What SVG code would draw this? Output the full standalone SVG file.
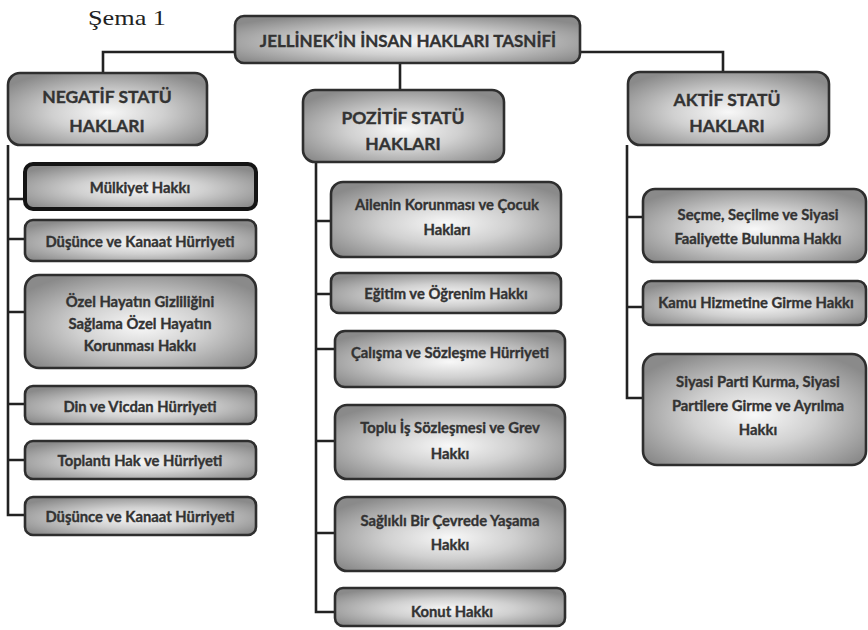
<svg xmlns="http://www.w3.org/2000/svg" width="868" height="630" viewBox="0 0 868 630">
  <defs>
    <radialGradient id="g" cx="50%" cy="55%" r="62%">
      <stop offset="0" stop-color="#f8f8f8"/>
      <stop offset="0.45" stop-color="#d0d0d0"/>
      <stop offset="1" stop-color="#8a8a8a"/>
    </radialGradient>
    <style>
      .box{fill:url(#g);stroke:#2e2e2e;stroke-width:2.6}
      .thick{stroke:#141414;stroke-width:4}
      .t{font-family:Lato,"Liberation Sans",sans-serif;font-weight:bold;fill:#333;stroke:#333;stroke-width:0.35;text-anchor:middle;font-size:14.8px}
      .h{font-size:17.5px}
      .tt{font-size:17px}
      .c{fill:none;stroke:#222;stroke-width:2.6}
    </style>
  </defs>
  <rect width="868" height="630" fill="#fff"/>
  <text x="88" y="25" font-family="'Liberation Serif',serif" font-size="22" fill="#222" textLength="78" lengthAdjust="spacingAndGlyphs">Şema 1</text>

  <g id="connectors">
    <path class="c" d="M235 52H103V73"/>
    <path class="c" d="M400 63V90"/>
    <path class="c" d="M580 52H723V72"/>
    <path class="c" d="M8 145V515H25M8 199H25M8 239H25M8 312H25M8 404H25M8 460H25"/>
    <path class="c" d="M316 162V612H335M316 221H331M316 294H331M316 349H335M316 441H335M316 533H335"/>
    <path class="c" d="M627 145V398H643M627 217H643M627 307H643"/>
  </g>

  <g id="title">
    <rect class="box" x="235" y="16" width="345" height="47" rx="9"/>
    <text class="t tt" x="408" y="47">JELLİNEK’İN İNSAN HAKLARI TASNİFİ</text>
  </g>
  <g id="negatif">
    <rect class="box" x="8" y="73" width="199" height="72" rx="12"/>
    <text class="t h" x="107" y="103">NEGATİF STATÜ</text>
    <text class="t h" x="107" y="132">HAKLARI</text>
  </g>
  <g id="pozitif">
    <rect class="box" x="303" y="90" width="201" height="72" rx="12"/>
    <text class="t h" x="403" y="124">POZİTİF STATÜ</text>
    <text class="t h" x="403" y="150">HAKLARI</text>
  </g>
  <g id="aktif">
    <rect class="box" x="628" y="72" width="201" height="73" rx="12"/>
    <text class="t h" x="727" y="106">AKTİF STATÜ</text>
    <text class="t h" x="727" y="132">HAKLARI</text>
  </g>

  <g id="n1">
    <rect class="box thick" x="25" y="164" width="231" height="45" rx="8"/>
    <text class="t" x="140" y="193">Mülkiyet Hakkı</text>
  </g>
  <g id="n2">
    <rect class="box" x="25" y="220" width="231" height="41" rx="8"/>
    <text class="t" x="140" y="247">Düşünce ve Kanaat Hürriyeti</text>
  </g>
  <g id="n3">
    <rect class="box" x="25" y="275" width="231" height="93" rx="14"/>
    <text class="t" x="140" y="307">Özel Hayatın Gizliliğini</text>
    <text class="t" x="140" y="329">Sağlama Özel Hayatın</text>
    <text class="t" x="140" y="351">Korunması Hakkı</text>
  </g>
  <g id="n4">
    <rect class="box" x="25" y="386" width="231" height="38" rx="8"/>
    <text class="t" x="140" y="412">Din ve Vicdan  Hürriyeti</text>
  </g>
  <g id="n5">
    <rect class="box" x="25" y="441" width="231" height="38" rx="8"/>
    <text class="t" x="140" y="466">Toplantı Hak ve Hürriyeti</text>
  </g>
  <g id="n6">
    <rect class="box" x="25" y="497" width="231" height="38" rx="8"/>
    <text class="t" x="140" y="522">Düşünce ve Kanaat Hürriyeti</text>
  </g>

  <g id="p1">
    <rect class="box" x="331" y="182" width="230" height="75" rx="12"/>
    <text class="t" x="447" y="210">Ailenin Korunması ve Çocuk</text>
    <text class="t" x="447" y="235">Hakları</text>
  </g>
  <g id="p2">
    <rect class="box" x="331" y="273" width="230" height="40" rx="8"/>
    <text class="t" x="446" y="299">Eğitim ve Öğrenim Hakkı</text>
  </g>
  <g id="p3">
    <rect class="box" x="335" y="331" width="230" height="56" rx="10"/>
    <text class="t" x="450" y="358">Çalışma  ve Sözleşme Hürriyeti</text>
  </g>
  <g id="p4">
    <rect class="box" x="335" y="405" width="230" height="74" rx="12"/>
    <text class="t" x="450" y="433">Toplu İş Sözleşmesi ve Grev</text>
    <text class="t" x="450" y="459">Hakkı</text>
  </g>
  <g id="p5">
    <rect class="box" x="335" y="497" width="230" height="74" rx="12"/>
    <text class="t" x="450" y="526">Sağlıklı Bir Çevrede Yaşama</text>
    <text class="t" x="450" y="550">Hakkı</text>
  </g>
  <g id="p6">
    <rect class="box" x="335" y="588" width="230" height="38" rx="8"/>
    <text class="t" x="452" y="617">Konut Hakkı</text>
  </g>

  <g id="a1">
    <rect class="box" x="643" y="189" width="223" height="73" rx="12"/>
    <text class="t" x="758" y="220">Seçme, Seçilme ve Siyasi</text>
    <text class="t" x="758" y="244">Faaliyette Bulunma Hakkı</text>
  </g>
  <g id="a2">
    <rect class="box" x="643" y="281" width="223" height="44" rx="8"/>
    <text class="t" x="756" y="308">Kamu Hizmetine  Girme  Hakkı</text>
  </g>
  <g id="a3">
    <rect class="box" x="643" y="354" width="223" height="111" rx="14"/>
    <text class="t" x="758" y="387">Siyasi Parti Kurma, Siyasi</text>
    <text class="t" x="758" y="411">Partilere Girme ve Ayrılma</text>
    <text class="t" x="758" y="435">Hakkı</text>
  </g>
</svg>
